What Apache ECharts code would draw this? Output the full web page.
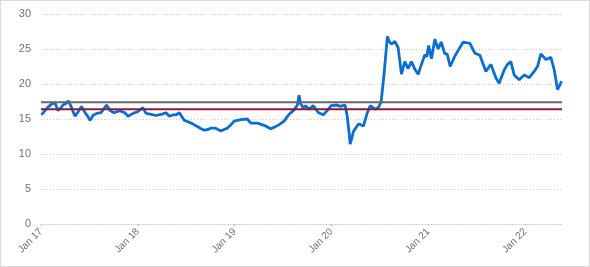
<!DOCTYPE html>
<html>
<head>
<meta charset="utf-8">
<script src="https://cdn.jsdelivr.net/npm/echarts@6/dist/echarts.min.js"></script>
<style>
  html, body { margin: 0; padding: 0; background: #fff; }
  #chart { width: 590px; height: 267px; }
</style>
</head>
<body>
<div id="chart"></div>
<script>
// x = years since Jan 2017
const yearsSince2017 = [
  0.005, 0.041, 0.072, 0.114, 0.145, 0.176, 0.207, 0.227, 0.258, 0.282,
  0.310, 0.351, 0.382, 0.418, 0.451, 0.486, 0.506, 0.537, 0.575, 0.620,
  0.677, 0.713, 0.754, 0.813, 0.865, 0.899, 0.919, 0.950, 0.992, 1.051,
  1.085, 1.126, 1.188, 1.250, 1.291, 1.325, 1.364, 1.395, 1.429, 1.480,
  1.519, 1.567, 1.619, 1.653, 1.687, 1.725, 1.756, 1.798, 1.856, 1.890,
  1.925, 1.963, 1.994, 2.063, 2.131, 2.166, 2.235, 2.304, 2.373, 2.407,
  2.459, 2.510, 2.541, 2.572, 2.614, 2.648, 2.665, 2.681, 2.707, 2.732,
  2.769, 2.813, 2.865, 2.916, 2.955, 2.996, 3.055, 3.089, 3.140, 3.161,
  3.182, 3.192, 3.208, 3.226, 3.254, 3.278, 3.330, 3.365, 3.399, 3.450,
  3.481, 3.512, 3.528, 3.543, 3.559, 3.577, 3.598, 3.623, 3.654, 3.688,
  3.722, 3.757, 3.791, 3.825, 3.861, 3.895, 3.929, 3.964, 3.984, 4.003,
  4.032, 4.067, 4.101, 4.132, 4.170, 4.194, 4.225, 4.274, 4.308, 4.360,
  4.390, 4.429, 4.480, 4.532, 4.556, 4.594, 4.646, 4.697, 4.731, 4.783,
  4.817, 4.852, 4.886, 4.938, 4.990, 5.041, 5.093, 5.127, 5.162, 5.214,
  5.265, 5.300, 5.334, 5.356, 5.375
]
const values = [
  15.6, 16.2, 16.7, 17.2, 17.3, 16.2, 16.6, 17.0, 17.2, 17.6,
  16.8, 15.4, 16.0, 16.8, 16.0, 15.3, 14.8, 15.5, 15.8, 15.9,
  17.0, 16.2, 15.9, 16.2, 15.9, 15.4, 15.2, 15.8, 16.0, 16.6,
  15.8, 15.7, 15.5, 15.7, 15.9, 15.4, 15.6, 15.6, 15.9, 14.8,
  14.6, 14.3, 13.9, 13.6, 13.4, 13.5, 13.7, 13.7, 13.3, 13.5,
  13.7, 14.2, 14.7, 14.9, 15.0, 14.4, 14.4, 14.1, 13.6, 13.8,
  14.2, 14.7, 15.3, 15.8, 16.3, 17.0, 18.4, 17.2, 16.6, 16.9,
  16.4, 16.9, 15.9, 15.6, 16.2, 16.9, 17.0, 16.8, 17.0, 15.5,
  13.0, 11.4, 12.2, 13.2, 13.8, 14.3, 14.0, 15.7, 16.9, 16.4,
  16.6, 17.4, 19.5, 21.5, 24.0, 26.8, 26.0, 25.7, 26.1, 25.2,
  21.4, 23.2, 22.2, 23.2, 22.1, 21.4, 22.8, 24.2, 23.9, 25.5,
  23.6, 26.4, 25.0, 26.0, 24.3, 24.3, 22.5, 24.0, 24.8, 26.0,
  25.9, 25.8, 24.4, 24.1, 23.2, 21.8, 22.8, 20.9, 20.1, 22.0,
  22.8, 23.2, 21.3, 20.6, 21.3, 20.9, 21.8, 22.5, 24.3, 23.5,
  23.8, 22.0, 19.2, 19.8, 20.4
]
const yearLabels = ['Jan 17', 'Jan 18', 'Jan 19', 'Jan 20', 'Jan 21', 'Jan 22']
const upperLevel = 17.4
const lowerLevel = 16.4
const xEnd = 5.38

const chart = echarts.init(document.getElementById('chart'))

const lineData = yearsSince2017.map((x, i) => [x, values[i]])

const option = {
  animation: false,
  backgroundColor: '#fff',
  grid: { left: 41, right: 28, top: 14, bottom: 43 },
  graphic: [{
    type: 'rect',
    shape: { x: 0.5, y: 0.5, width: 589, height: 266 },
    style: { fill: 'none', stroke: '#b5b5b5', lineWidth: 1, lineDash: [1, 1] },
    silent: true
  }],
  xAxis: {
    type: 'value',
    min: 0,
    max: xEnd,
    interval: 1,
    axisLine: { show: true, lineStyle: { color: '#c8c8c8', type: [1, 2] } },
    axisTick: { show: true, length: 2, lineStyle: { color: '#bdbdbd' } },
    splitLine: { show: false },
    axisLabel: {
      rotate: 45,
      margin: 6,
      color: '#707070',
      fontFamily: 'Liberation Sans',
      fontSize: 10,
      showMaxLabel: false,
      formatter: v => yearLabels[Math.round(v)] || ''
    }
  },
  yAxis: {
    type: 'value',
    min: 0,
    max: 30,
    interval: 5,
    axisLine: { show: false },
    axisTick: { show: false },
    splitLine: { lineStyle: { color: '#c8c8c8', type: [1, 2] } },
    axisLabel: {
      margin: 10,
      color: '#707070',
      fontFamily: 'Liberation Sans',
      fontSize: 11
    }
  },
  series: [
    {
      name: 'value',
      type: 'line',
      data: lineData,
      showSymbol: false,
      smooth: false,
      lineStyle: { color: '#0a6ecf', width: 2.8 },
      z: 2
    },
    {
      name: 'upper',
      type: 'line',
      data: [[0, upperLevel], [xEnd, upperLevel]],
      showSymbol: false,
      lineStyle: { color: '#666666', width: 2 },
      z: 3
    },
    {
      name: 'lower',
      type: 'line',
      data: [[0, lowerLevel], [xEnd, lowerLevel]],
      showSymbol: false,
      lineStyle: { color: '#8b1a3e', width: 2 },
      z: 3
    }
  ]
}

chart.setOption(option)
</script>
</body>
</html>
